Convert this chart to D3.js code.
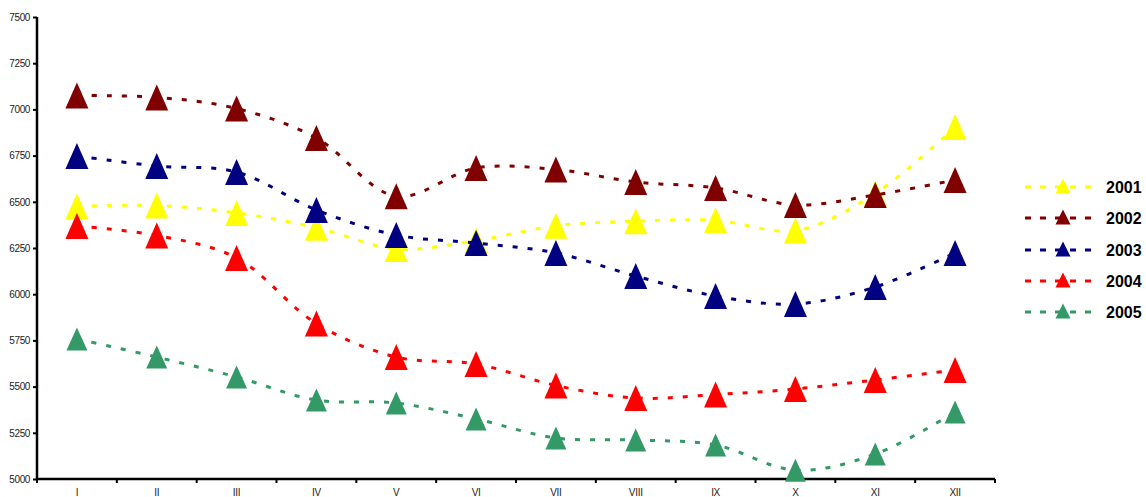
<!DOCTYPE html>
<html>
<head>
<meta charset="utf-8">
<script src="https://cdn.jsdelivr.net/npm/d3@7/dist/d3.min.js"></script>
<style>
  html, body { margin: 0; padding: 0; background: #fff; }
  svg { display: block; }
</style>
</head>
<body>
<script>
const months = ["I", "II", "III", "IV", "V", "VI", "VII", "VIII", "IX", "X", "XI", "XII"];
const yTicks = [5000, 5250, 5500, 5750, 6000, 6250, 6500, 6750, 7000, 7250, 7500];
const seriesNames = ["2001", "2002", "2003", "2004", "2005"];
const values2001 = [6475, 6480, 6440, 6360, 6245, 6290, 6370, 6395, 6400, 6345, 6545, 6905];
const values2002 = [7075, 7065, 7005, 6845, 6530, 6683, 6675, 6607, 6575, 6483, 6537, 6618];
const values2003 = [6748, 6694, 6661, 6456, 6320, 6277, 6223, 6098, 5990, 5947, 6039, 6223];
const values2004 = [6369, 6318, 6196, 5841, 5660, 5622, 5506, 5438, 5457, 5487, 5536, 5590];
const values2005 = [5758, 5660, 5552, 5427, 5411, 5325, 5222, 5211, 5184, 5048, 5135, 5362];
const colors = ["#FFFF00", "#800000", "#000080", "#FF0000", "#339966"];

const seriesValues = [values2001, values2002, values2003, values2004, values2005];

const W = 1146, H = 497;
const svg = d3.select("body").append("svg").attr("width", W).attr("height", H);

const x = d3.scaleBand().domain(months).range([37, 995]).padding(0);
const y = d3.scaleLinear().domain([5000, 7500]).range([479, 17]);

const fontAxis = "'Liberation Sans', Arial, sans-serif";

// Y axis
const yAxis = svg.append("g").attr("transform", "translate(37,0)")
  .call(d3.axisLeft(y).tickValues(yTicks).tickSize(4).tickPadding(3).tickFormat(d3.format("d")));
yAxis.select(".domain").attr("stroke", "#000").attr("stroke-width", 2.5).attr("d", `M0,${y(7500)}V${y(5000)}`);
yAxis.selectAll(".tick line").attr("stroke", "#000").attr("stroke-width", 2);
yAxis.selectAll(".tick text").attr("font-family", fontAxis).attr("font-size", 10)
  .attr("fill", "#222").attr("letter-spacing", -0.4);

// X axis
const xAxisG = svg.append("g").attr("transform", `translate(0,${y(5000)})`);
xAxisG.append("line").attr("x1", x.range()[0]).attr("x2", x.range()[1])
  .attr("y1", 0).attr("y2", 0).attr("stroke", "#000").attr("stroke-width", 2.5);
const boundaries = months.map(m => x(m)).concat([x.range()[1]]);
xAxisG.selectAll("line.tk").data(boundaries).enter().append("line").attr("class", "tk")
  .attr("x1", d => d).attr("x2", d => d).attr("y1", 0).attr("y2", 4)
  .attr("stroke", "#000").attr("stroke-width", 2);
xAxisG.selectAll("text").data(months).enter().append("text")
  .attr("x", d => x(d) + x.bandwidth() / 2).attr("y", 17)
  .attr("text-anchor", "middle").attr("font-family", fontAxis).attr("font-size", 10)
  .attr("fill", "#222").attr("letter-spacing", -0.3).text(d => d);

const cx = m => x(m) + x.bandwidth() / 2;
const line = d3.line().x((d, i) => cx(months[i])).y(d => y(d)).curve(d3.curveCatmullRom.alpha(0.5));
const tri = d3.symbol().type(d3.symbolTriangle);

function triPath(w, h) {
  // isosceles triangle centered at origin
  return `M0,${-h / 2}L${w / 2},${h / 2}L${-w / 2},${h / 2}Z`;
}

seriesValues.forEach((vals, si) => {
  const g = svg.append("g");
  g.append("path").attr("d", line(vals)).attr("fill", "none")
    .attr("stroke", colors[si]).attr("stroke-width", 3).attr("stroke-dasharray", "5,10");
  const w = si === 4 ? 21 : 23, h = si === 4 ? 23 : 26;
  g.selectAll("path.mk").data(vals).enter().append("path").attr("class", "mk")
    .attr("transform", (d, i) => `translate(${cx(months[i])},${y(d)})`)
    .attr("d", triPath(w, h)).attr("fill", colors[si]);
});

// Legend
const legendY = [187, 218, 250, 281, 312];
const lg = svg.append("g");
seriesNames.forEach((name, i) => {
  const row = lg.append("g").attr("transform", `translate(0,${legendY[i]})`);
  row.append("line").attr("x1", 1025).attr("x2", 1093).attr("y1", 0).attr("y2", 0)
    .attr("stroke", colors[i]).attr("stroke-width", 3).attr("stroke-dasharray", "6,9");
  row.append("path").attr("transform", "translate(1063,-1)").attr("d", triPath(15, 15)).attr("fill", colors[i]);
  row.append("text").attr("x", 1106).attr("y", 6).attr("font-family", fontAxis)
    .attr("font-weight", "bold").attr("font-size", 16).attr("fill", "#000").text(name);
});
</script>
</body>
</html>
